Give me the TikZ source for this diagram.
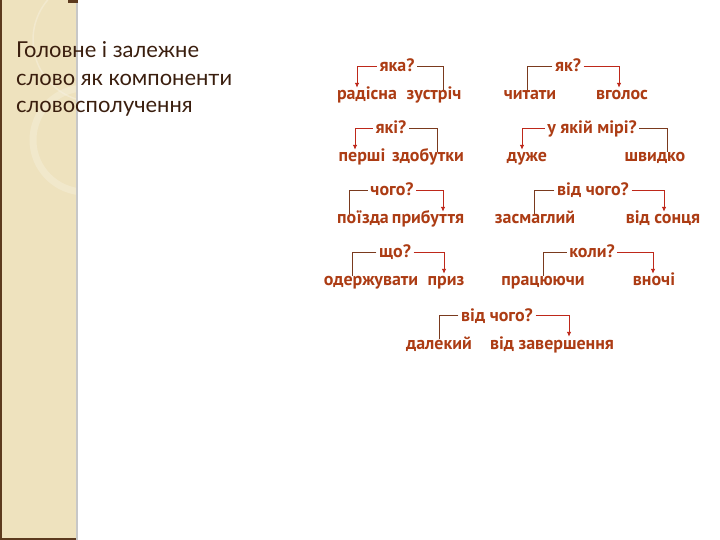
\documentclass[tikz,border=0pt]{standalone}
\usepackage{fontspec}
\setmainfont{PT Sans}
\newfontfamily\titlefont{Lato}
\usetikzlibrary{arrows.meta}

\definecolor{stripfill}{RGB}{238,226,190}
\definecolor{stripedge}{RGB}{92,58,30}
\definecolor{wordred}{RGB}{172,60,20}
\definecolor{linebrown}{RGB}{122,58,30}
\definecolor{arrowred}{RGB}{190,40,26}
\definecolor{titlebrown}{RGB}{58,30,14}

\tikzset{
    word/.style={anchor=base, inner sep=1bp, text height=11bp, text depth=3bp,
        text=wordred, font=\fontsize{18}{21}\selectfont\bfseries},
    quest/.style={word, inner xsep=2.5bp, text height=12bp, text depth=0bp},
    link/.style={draw=linebrown, line width=0.8bp},
    dep/.style={draw=arrowred, line width=0.9bp, -{Latex[length=5bp,width=4.5bp]}}
}

\begin{document}
\begin{tikzpicture}[x=1bp, y=-1bp]

    \useasboundingbox (0,0) rectangle (720,540);

    % left strip
    \fill[stripfill] (0,0) rectangle (78,540);
    \begin{scope}
        \clip (0,0) rectangle (77,540);
        \draw[white, opacity=0.25, line width=1.5bp] (95,40) circle (62);
        \draw[white!60!stripfill, opacity=0.35, line width=7bp] (85,140) circle (52);
    \end{scope}
    \draw[stripedge, line width=2bp] (1,0) -- (1,540);
    \draw[stripedge, line width=1.5bp] (0,539) -- (78,539);
    \draw[black!22, line width=1.2bp] (77,0) -- (77,540);
    \fill[stripedge] (68,0) rectangle (78,3);

    % title
    \node[anchor=north west, align=left, inner sep=0, text=titlebrown,
          font=\titlefont\fontsize{22}{28}\selectfont] (title) at (16,41)
        {Головне і залежне\\слово як компоненти\\словосполучення};

    % яка?
    \node[quest] (q1) at (397,72) {яка?};
    \node[word] (h1) at (367,100) {радісна};
    \node[word] (d1) at (434,100) {зустріч};
    \draw[dep] (q1.west) -| ([xshift=-10bp]h1.north);
    \draw[link] (q1.east) -| ([xshift=9bp, yshift=-2bp]d1.north);

    % як?
    \node[quest] (q2) at (568,72) {як?};
    \node[word] (h2) at (530,100) {читати};
    \node[word] (d2) at (622,100) {вголос};
    \draw[link] (q2.west) -| ([xshift=-3bp, yshift=-2bp]h2.north);
    \draw[dep] (q2.east) -| ([xshift=-3bp]d2.north);

    % які?
    \node[quest] (q3) at (391,134) {які?};
    \node[word] (h3) at (362,162) {перші};
    \node[word] (d3) at (428,162) {здобутки};
    \draw[dep] (q3.west) -| ([xshift=-7bp]h3.north);
    \draw[link] (q3.east) -| ([xshift=9bp, yshift=-2bp]d3.north);

    % у якій мірі?
    \node[quest] (q4) at (592,134) {у якій мірі?};
    \node[word] (h4) at (527,162) {дуже};
    \node[word] (d4) at (655,162) {швидко};
    \draw[dep] (q4.west) -| ([xshift=-5bp]h4.north);
    \draw[link] (q4.east) -| ([xshift=12bp, yshift=-2bp]d4.north);

    % чого?
    \node[quest] (q5) at (392,196) {чого?};
    \node[word] (h5) at (363,224) {поїзда};
    \node[word] (d5) at (428,224) {прибуття};
    \draw[link] (q5.west) -| ([xshift=-14bp, yshift=-2bp]h5.north);
    \draw[dep] (q5.east) -| ([xshift=15bp]d5.north);

    % від чого?
    \node[quest] (q6) at (593,196) {від чого?};
    \node[word] (h6) at (535,224) {засмаглий};
    \node[word] (d6) at (663,224) {від сонця};
    \draw[link] (q6.west) -| ([xshift=-1bp, yshift=-2bp]h6.north);
    \draw[dep] (q6.east) -| ([xshift=1bp]d6.north);

    % що?
    \node[quest] (q7) at (395,258) {що?};
    \node[word] (h7) at (371,286) {одержувати};
    \node[word] (d7) at (446,286) {приз};
    \draw[link] (q7.west) -| ([xshift=-19bp, yshift=-2bp]h7.north);
    \draw[dep] (q7.east) -| ([xshift=-2bp]d7.north);

    % коли?
    \node[quest] (q8) at (592,258) {коли?};
    \node[word] (h8) at (543,286) {працюючи};
    \node[word] (d8) at (654,286) {вночі};
    \draw[link] (q8.west) -| ([yshift=-2bp]h8.north);
    \draw[dep] (q8.east) -| ([xshift=-1bp]d8.north);

    % від чого? (далекий)
    \node[quest] (q9) at (497,321) {від чого?};
    \node[word] (h9) at (439,349) {далекий};
    \node[word] (d9) at (552,349) {від завершення};
    \draw[link] (q9.west) -| ([yshift=-2bp]h9.north);
    \draw[dep] (q9.east) -| ([xshift=17bp]d9.north);

\end{tikzpicture}
\end{document}
